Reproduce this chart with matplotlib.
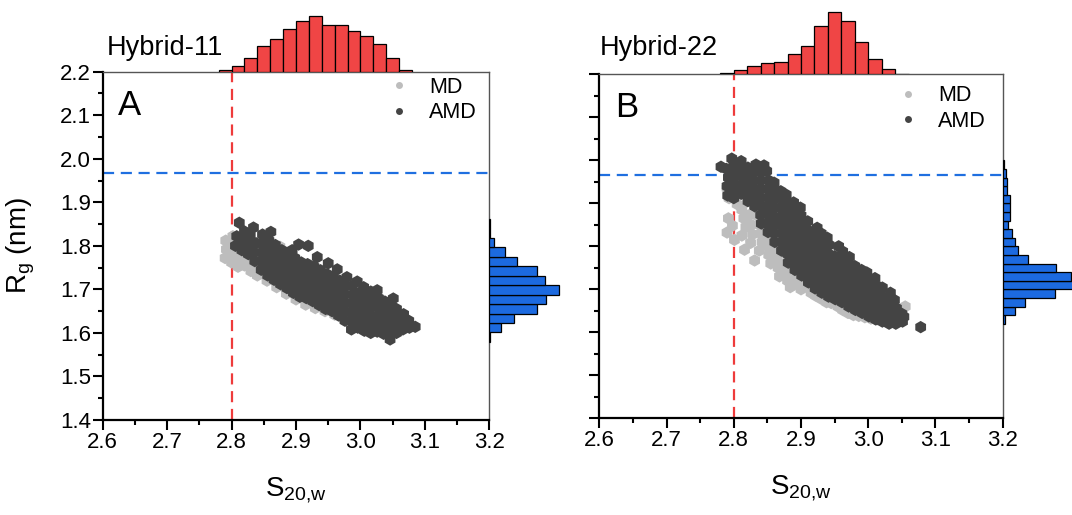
import matplotlib
matplotlib.use('Agg')
import matplotlib.pyplot as plt
from matplotlib.lines import Line2D

plt.rcParams['font.family'] = ['Liberation Sans', 'DejaVu Sans']
plt.rcParams['mathtext.default'] = 'regular'

# ---------------- data ----------------
panel_titles = ["Hybrid-11", "Hybrid-22"]
panel_letters = ["A", "B"]
x_ticks = [2.6, 2.7, 2.8, 2.9, 3.0, 3.1, 3.2]
y_ticks = [1.4, 1.5, 1.6, 1.7, 1.8, 1.9, 2.0, 2.1, 2.2]
s_cut = 2.8
rg_cut = [1.967, 1.965]

MD_A = [(2.790,1.772),(2.792,1.792),(2.791,1.812),
        (2.800,1.762),(2.801,1.782),(2.799,1.802),(2.802,1.822),
        (2.810,1.752),(2.811,1.772),(2.809,1.792),(2.812,1.810),
        (2.820,1.755),(2.821,1.775),(2.819,1.795),
        (2.830,1.742),(2.831,1.762),(2.829,1.782),
        (2.840,1.732),(2.841,1.752),(2.839,1.772),
        (2.855,1.720),(2.856,1.740),(2.854,1.760),
        (2.870,1.705),(2.871,1.725),(2.875,1.798),
        (2.885,1.690),(2.886,1.710),(2.884,1.778),
        (2.900,1.677),(2.901,1.697),(2.899,1.720),
        (2.915,1.665),(2.916,1.685),(2.914,1.708),
        (2.930,1.657),(2.931,1.677),
        (2.945,1.650),(2.946,1.670),(2.944,1.690),
        (2.960,1.642),(2.961,1.662),(2.959,1.682),
        (2.975,1.632),(2.976,1.652),
        (2.990,1.622),(2.991,1.642),(2.989,1.662),
        (3.005,1.617),(3.006,1.637),
        (3.020,1.612),(3.021,1.632),(3.019,1.652),
        (3.035,1.607),(3.036,1.627),
        (3.050,1.603),(3.051,1.622),
        (3.060,1.616)]

AMD_A = [(2.806,1.800),(2.808,1.822),(2.812,1.853),
         (2.816,1.790),(2.817,1.812),(2.820,1.833),
         (2.826,1.781),(2.827,1.802),(2.829,1.823),
         (2.836,1.765),(2.835,1.785),(2.838,1.806),(2.834,1.842),
         (2.846,1.745),(2.845,1.765),(2.847,1.785),(2.846,1.806),(2.848,1.826),
         (2.856,1.732),(2.855,1.752),(2.857,1.772),(2.856,1.792),(2.858,1.812),(2.861,1.832),
         (2.866,1.722),(2.865,1.742),(2.867,1.762),(2.866,1.782),(2.868,1.802),
         (2.876,1.712),(2.875,1.732),(2.877,1.752),(2.876,1.772),(2.878,1.790),
         (2.886,1.703),(2.885,1.722),(2.887,1.742),(2.886,1.762),(2.888,1.780),
         (2.896,1.692),(2.895,1.712),(2.897,1.732),(2.896,1.752),(2.898,1.772),(2.894,1.790),
         (2.906,1.683),(2.905,1.702),(2.907,1.722),(2.906,1.742),(2.908,1.762),(2.904,1.803),
         (2.916,1.680),(2.915,1.698),(2.917,1.718),(2.916,1.738),(2.918,1.758),(2.919,1.800),
         (2.926,1.673),(2.925,1.692),(2.927,1.712),(2.926,1.732),(2.928,1.752),(2.933,1.774),
         (2.936,1.664),(2.935,1.684),(2.937,1.704),(2.936,1.724),(2.938,1.744),
         (2.946,1.655),(2.945,1.675),(2.947,1.695),(2.946,1.715),(2.948,1.735),(2.950,1.760),
         (2.956,1.650),(2.955,1.668),(2.957,1.688),(2.956,1.708),(2.958,1.728),
         (2.966,1.640),(2.965,1.660),(2.967,1.680),(2.966,1.700),(2.968,1.720),(2.964,1.746),
         (2.976,1.628),(2.975,1.648),(2.977,1.668),(2.976,1.688),(2.978,1.708),(2.979,1.728),
         (2.986,1.608),(2.985,1.628),(2.987,1.648),(2.986,1.668),(2.988,1.688),(2.987,1.708),
         (2.996,1.612),(2.995,1.632),(2.997,1.652),(2.996,1.672),(2.998,1.692),(2.995,1.718),
         (3.006,1.605),(3.005,1.625),(3.007,1.645),(3.006,1.665),(3.008,1.685),(3.005,1.705),
         (3.016,1.600),(3.015,1.618),(3.017,1.638),(3.016,1.658),(3.018,1.678),(3.016,1.695),
         (3.026,1.603),(3.025,1.620),(3.027,1.640),(3.026,1.660),(3.028,1.680),(3.026,1.698),
         (3.036,1.598),(3.035,1.615),(3.037,1.635),(3.036,1.655),(3.038,1.672),
         (3.046,1.585),(3.045,1.605),(3.047,1.625),(3.046,1.645),(3.048,1.662),(3.051,1.679),
         (3.056,1.600),(3.055,1.620),(3.057,1.638),(3.056,1.655),
         (3.066,1.608),(3.065,1.626),(3.067,1.643),
         (3.076,1.612),(3.075,1.628),
         (3.085,1.614)]

MD_B = [(2.790,1.935),(2.793,1.912),(2.805,1.898),(2.792,1.865),(2.798,1.848),(2.790,1.832),(2.801,1.815),
        (2.812,1.885),(2.815,1.865),(2.818,1.845),(2.812,1.825),(2.816,1.792),(2.822,1.872),(2.826,1.850),
        (2.828,1.828),(2.825,1.808),(2.831,1.767),
        (2.836,1.870),(2.838,1.850),(2.840,1.830),(2.842,1.810),(2.838,1.790),
        (2.848,1.820),(2.850,1.800),(2.852,1.780),(2.855,1.760),
        (2.862,1.790),(2.864,1.770),(2.866,1.750),(2.868,1.730),
        (2.875,1.760),(2.878,1.740),(2.880,1.720),(2.884,1.705),
        (2.892,1.725),(2.895,1.710),(2.900,1.700),(2.906,1.712),
        (2.915,1.692),(2.922,1.685),(2.930,1.678),(2.938,1.670),(2.945,1.668),
        (2.955,1.660),(2.962,1.652),(2.970,1.645),(2.978,1.640),(2.986,1.638),
        (2.995,1.635),(3.004,1.632),(3.013,1.630),(3.022,1.628),(3.032,1.628),(3.042,1.630),
        (3.050,1.652),(3.055,1.660),(3.048,1.640),
        (2.910,1.740),(2.940,1.720),(2.970,1.690),(3.000,1.660)]

AMD_B = [(2.781,1.985),
         (2.791,1.918),(2.790,1.940),(2.792,1.960),(2.789,1.980),
         (2.800,1.912),(2.801,1.932),(2.799,1.952),(2.802,1.972),(2.800,1.990),(2.797,2.004),
         (2.811,1.922),(2.810,1.942),(2.812,1.962),(2.809,1.982),(2.811,1.998),
         (2.821,1.905),(2.820,1.925),(2.822,1.945),(2.819,1.965),(2.821,1.983),
         (2.831,1.893),(2.830,1.913),(2.832,1.933),(2.829,1.953),(2.831,1.973),(2.833,1.990),
         (2.841,1.853),(2.840,1.873),(2.842,1.893),(2.839,1.913),(2.841,1.933),(2.840,1.953),(2.842,1.973),(2.845,1.988),
         (2.851,1.833),(2.850,1.853),(2.852,1.873),(2.849,1.893),(2.851,1.913),(2.850,1.933),(2.852,1.953),(2.849,1.975),
         (2.861,1.810),(2.860,1.830),(2.862,1.850),(2.859,1.870),(2.861,1.890),(2.860,1.910),(2.862,1.930),(2.860,1.948),
         (2.871,1.790),(2.870,1.810),(2.872,1.830),(2.869,1.850),(2.871,1.870),(2.870,1.890),(2.872,1.910),(2.870,1.928),
         (2.881,1.762),(2.880,1.782),(2.882,1.802),(2.879,1.822),(2.881,1.842),(2.880,1.862),(2.882,1.882),(2.880,1.902),(2.878,1.920),
         (2.891,1.745),(2.890,1.765),(2.892,1.785),(2.889,1.805),(2.891,1.825),(2.890,1.845),(2.892,1.865),(2.890,1.885),(2.889,1.902),
         (2.901,1.732),(2.900,1.752),(2.902,1.772),(2.899,1.792),(2.901,1.812),(2.900,1.832),(2.902,1.852),(2.900,1.872),(2.899,1.890),
         (2.911,1.716),(2.910,1.736),(2.912,1.756),(2.909,1.776),(2.911,1.796),(2.910,1.816),(2.912,1.836),(2.910,1.858),
         (2.921,1.702),(2.920,1.722),(2.922,1.742),(2.919,1.762),(2.921,1.782),(2.920,1.802),(2.922,1.822),(2.924,1.843),
         (2.931,1.692),(2.930,1.712),(2.932,1.732),(2.929,1.752),(2.931,1.772),(2.930,1.792),(2.932,1.812),(2.930,1.830),
         (2.941,1.683),(2.940,1.703),(2.942,1.723),(2.939,1.743),(2.941,1.763),(2.940,1.783),(2.942,1.803),(2.939,1.820),
         (2.951,1.677),(2.950,1.697),(2.952,1.717),(2.949,1.737),(2.951,1.757),(2.950,1.777),(2.956,1.800),
         (2.961,1.670),(2.960,1.690),(2.962,1.710),(2.959,1.730),(2.961,1.750),(2.960,1.770),(2.962,1.788),
         (2.971,1.660),(2.970,1.680),(2.972,1.700),(2.969,1.720),(2.971,1.740),(2.970,1.760),(2.972,1.775),
         (2.981,1.652),(2.980,1.672),(2.982,1.692),(2.979,1.712),(2.981,1.732),(2.980,1.754),
         (2.991,1.645),(2.990,1.665),(2.992,1.685),(2.989,1.705),(2.991,1.725),(2.990,1.745),
         (3.001,1.637),(3.000,1.657),(3.002,1.677),(2.999,1.697),(3.001,1.717),(2.998,1.739),
         (3.011,1.630),(3.010,1.650),(3.012,1.670),(3.009,1.690),(3.011,1.710),(3.010,1.726),
         (3.021,1.625),(3.020,1.645),(3.022,1.665),(3.019,1.685),(3.021,1.704),
         (3.031,1.620),(3.030,1.640),(3.032,1.660),(3.029,1.680),(3.033,1.692),
         (3.041,1.620),(3.040,1.638),(3.042,1.656),(3.039,1.675),
         (3.051,1.625),(3.050,1.643),(3.053,1.636),
         (3.078,1.612)]

# marginal histograms (bin edges and counts)
topA_edges = [2.78, 2.80, 2.82, 2.84, 2.86, 2.88, 2.90, 2.92, 2.94, 2.96, 2.98, 3.00, 3.02, 3.04, 3.06, 3.08]
topA_counts = [3, 11, 27, 52, 66, 86, 102, 112, 94, 94, 82, 72, 56, 27, 3]
topB_edges = [2.78, 2.80, 2.82, 2.84, 2.86, 2.88, 2.90, 2.92, 2.94, 2.96, 2.98, 3.00, 3.02, 3.04, 3.06]
topB_counts = [2, 9, 17, 23, 25, 40, 56, 96, 124, 106, 64, 30, 11, 1]
rightA_edges = [1.579, 1.601, 1.623, 1.644, 1.666, 1.688, 1.710, 1.731, 1.753, 1.775, 1.797, 1.819, 1.840, 1.862]
rightA_counts = [2, 23, 50, 96, 113, 140, 112, 96, 55, 31, 9, 2, 2]
rightB_edges = [1.62, 1.64, 1.66, 1.68, 1.70, 1.72, 1.74, 1.76, 1.78, 1.80, 1.82, 1.84, 1.86, 1.88,
                1.90, 1.92, 1.94, 1.96, 1.98, 2.00]
rightB_counts = [5, 25, 44, 104, 150, 136, 106, 50, 30, 25, 19, 11, 14, 14, 14, 9, 9, 6, 3]

# ---------------- style ----------------
MD_COLOR = '#bdbdbd'
AMD_COLOR = '#444444'
RED = '#ee3b3b'
HRED = '#f04545'
BLUE = '#1f6fe0'
HBLUE = '#1c6ae0'
W, H = 1072, 515


def box(l, t, r, b):
    return [l / W, 1 - b / H, (r - l) / W, (b - t) / H]


fig = plt.figure(figsize=(W / 100, H / 100), dpi=100)

panels = [
    dict(main=(102.7, 71.7, 489.3, 420.0), right_w=76, rxmax=152, top_ymax=143,
         md=MD_A, amd=AMD_A, te=topA_edges, tc=topA_counts, re=rightA_edges, rc=rightA_counts,
         title_x=107, leg_anchor=(0.738, 0.985), ylab=True),
    dict(main=(599.3, 74.3, 1002.7, 418.3), right_w=69.3, rxmax=139, top_ymax=148,
         md=MD_B, amd=AMD_B, te=topB_edges, tc=topB_counts, re=rightB_edges, rc=rightB_counts,
         title_x=600, leg_anchor=(0.738, 0.968), ylab=False),
]

for i, p in enumerate(panels):
    l, t, r, b = p['main']
    ax = fig.add_axes(box(l, t, r, b))
    ax.set_xlim(2.6, 3.2)
    ax.set_ylim(1.4, 2.2)

    ax.axvline(s_cut, color=RED, lw=1.6, ls=(0, (5, 3)), zorder=1)
    ax.axhline(rg_cut[i], color=BLUE, lw=1.6, ls=(0, (5, 3)), zorder=1)

    mx, my = zip(*p['md'])
    ax.scatter(mx, my, s=80, marker='h', color=MD_COLOR, edgecolors='none', zorder=2)
    ax_, ay_ = zip(*p['amd'])
    ax.scatter(ax_, ay_, s=80, marker='h', color=AMD_COLOR, edgecolors='none', zorder=3)

    ax.set_xticks(x_ticks)
    ax.set_xticklabels([f"{v:.1f}" for v in x_ticks])
    ax.set_yticks(y_ticks)
    if p['ylab']:
        ax.set_yticklabels([f"{v:.1f}" for v in y_ticks])
    else:
        ax.set_yticklabels([])
    ax.set_xticks([2.65, 2.75, 2.85, 2.95, 3.05, 3.15], minor=True)
    ax.set_yticks([1.45, 1.55, 1.65, 1.75, 1.85, 1.95, 2.05, 2.15], minor=True)
    ax.tick_params(which='major', direction='out', length=7, width=1.5, labelsize=16, pad=1.5,
                   top=False, right=False, color='black')
    ax.tick_params(which='minor', direction='out', length=3.5, width=1.5, top=False, right=False)
    for s in ['left', 'bottom']:
        ax.spines[s].set_linewidth(1.6)
        ax.spines[s].set_color('black')
    for s in ['top', 'right']:
        ax.spines[s].set_linewidth(1.0)
        ax.spines[s].set_color('#555555')

    ax.set_xlabel(r'S$_{20{,}w}$', fontsize=20)
    ax.xaxis.set_label_coords(0.5, -0.16)
    if p['ylab']:
        ax.set_ylabel(r'R$_{g}$ (nm)', fontsize=20)
        ax.yaxis.set_label_coords(-0.17, 0.5)

    ax.text(0.04, 0.876, panel_letters[i], transform=ax.transAxes, fontsize=25,
            va='baseline', ha='left')

    handles = [Line2D([], [], ls='none', marker='o', ms=5, color=MD_COLOR, mec='none'),
               Line2D([], [], ls='none', marker='o', ms=5, color=AMD_COLOR, mec='none')]
    ax.legend(handles, ['MD', 'AMD'], loc='upper left', bbox_to_anchor=p['leg_anchor'],
              frameon=False, fontsize=15.5, handlelength=1.0, handletextpad=0.9,
              labelspacing=0.2, borderpad=0, borderaxespad=0)

    # top histogram
    axt = fig.add_axes(box(l, 0, r, t))
    widths = [p['te'][k + 1] - p['te'][k] for k in range(len(p['tc']))]
    axt.bar(p['te'][:-1], p['tc'], width=widths, align='edge', color=HRED,
            edgecolor='black', linewidth=0.9)
    axt.set_xlim(2.6, 3.2)
    axt.set_ylim(0, p['top_ymax'])
    axt.axis('off')

    # right histogram
    axr = fig.add_axes(box(r, t, r + p['right_w'], b))
    heights = [p['re'][k + 1] - p['re'][k] for k in range(len(p['rc']))]
    axr.barh(p['re'][:-1], p['rc'], height=heights, align='edge', color=HBLUE,
             edgecolor='black', linewidth=0.9)
    axr.set_ylim(1.4, 2.2)
    axr.set_xlim(0, p['rxmax'])
    axr.axis('off')

    fig.text(p['title_x'] / W, 1 - 55 / H, panel_titles[i], fontsize=19.5,
             ha='left', va='baseline')

fig.savefig('out.png', dpi=100)
